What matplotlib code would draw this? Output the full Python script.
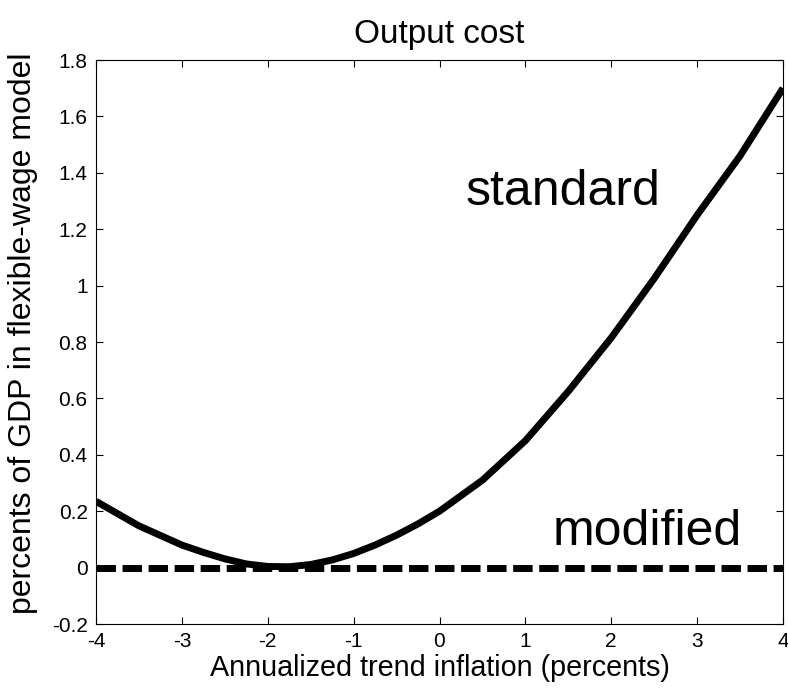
import matplotlib
matplotlib.use("Agg")
import matplotlib.pyplot as plt

# trend inflation (percent, annualized)
inflation = [-4.0, -3.5, -3.0, -2.75, -2.5, -2.25, -2.0, -1.75, -1.5, -1.25,
             -1.0, -0.75, -0.5, -0.25, 0.0, 0.5, 1.0, 1.5, 2.0, 2.5, 3.0, 3.5, 4.0]
# output cost, percent of GDP
standard = [0.235, 0.148, 0.080, 0.054, 0.031, 0.013, 0.004, 0.003, 0.011, 0.027,
            0.050, 0.080, 0.115, 0.155, 0.200, 0.310, 0.450, 0.625, 0.815, 1.025,
            1.250, 1.460, 1.700]
modified = [0.0] * len(inflation)

xticks = [-4, -3, -2, -1, 0, 1, 2, 3, 4]
yticks = [-0.2, 0, 0.2, 0.4, 0.6, 0.8, 1, 1.2, 1.4, 1.6, 1.8]
yticklabels = ["-0.2", "0", "0.2", "0.4", "0.6", "0.8", "1", "1.2", "1.4", "1.6", "1.8"]

plt.rcParams["font.family"] = ["Liberation Sans", "DejaVu Sans"]

fig = plt.figure(figsize=(7.88, 6.96), dpi=100)
ax = fig.add_axes([96 / 788, 72 / 696, 687 / 788, 564 / 696])

ax.plot(inflation, standard, color="black", linewidth=5,
        solid_capstyle="butt", solid_joinstyle="round")
ax.plot(inflation, modified, color="black", linewidth=5, dashes=(2.8, 0.95))

ax.text(0.30, 1.286, "standard", fontsize=36, ha="left", va="baseline")
ax.text(1.32, 0.08, "modified", fontsize=36, ha="left", va="baseline")

ax.set_xlim(-4, 4)
ax.set_ylim(-0.2, 1.8)
ax.set_xticks(xticks)
ax.set_xticklabels([str(t) for t in xticks])
ax.set_yticks(yticks)
ax.set_yticklabels(yticklabels)
ax.tick_params(direction="in", length=5, width=0.8, labelsize=15, pad=6,
               top=True, right=True)
for s in ax.spines.values():
    s.set_linewidth(0.8)

ax.set_title("Output cost", fontsize=24, pad=12)
ax.set_xlabel("Annualized trend inflation (percents)", fontsize=20.7, labelpad=2)
ax.set_ylabel("percents of GDP in flexible-wage model", fontsize=23)
ax.yaxis.set_label_coords(-0.085, 0.516)

fig.savefig("out.png", dpi=100)
plt.close(fig)
